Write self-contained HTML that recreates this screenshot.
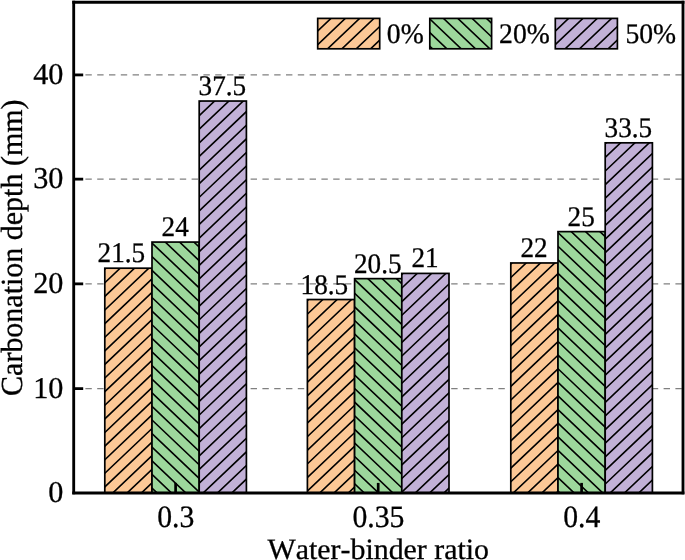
<!DOCTYPE html>
<html><head><meta charset="utf-8"><title>Carbonation depth</title>
<style>html,body{margin:0;padding:0;background:#fff}body{width:685px;height:560px;overflow:hidden}</style>
</head><body>
<svg width="685" height="560" viewBox="0 0 685 560" style="display:block;font-family:'Liberation Serif', serif" stroke-linecap="butt"><style>text{stroke:#000;stroke-width:0.3px;fill:#000;text-rendering:geometricPrecision}</style>
<rect width="685" height="560" fill="#fff"/>
<line x1="73.6" x2="682.6"  y1="388.63" y2="388.63" stroke="#808080" stroke-width="1.4" stroke-dasharray="6.4 5.4"/>
<line x1="73.6" x2="682.6"  y1="283.86" y2="283.86" stroke="#808080" stroke-width="1.4" stroke-dasharray="6.4 5.4"/>
<line x1="73.6" x2="682.6"  y1="179.14" y2="179.14" stroke="#808080" stroke-width="1.4" stroke-dasharray="6.4 5.4"/>
<line x1="73.6" x2="682.6"  y1="74.92" y2="74.92" stroke="#808080" stroke-width="1.4" stroke-dasharray="6.4 5.4"/>
<defs><clipPath id="c1"><rect x="104.80" y="268.19" width="47.20" height="224.61"/></clipPath><clipPath id="c2"><rect x="152.00" y="242.07" width="47.20" height="250.73"/></clipPath><clipPath id="c3"><rect x="199.20" y="101.04" width="47.20" height="391.76"/></clipPath><clipPath id="c4"><rect x="307.40" y="299.53" width="47.20" height="193.27"/></clipPath><clipPath id="c5"><rect x="354.60" y="278.64" width="47.20" height="214.16"/></clipPath><clipPath id="c6"><rect x="401.80" y="273.41" width="47.20" height="219.39"/></clipPath><clipPath id="c7"><rect x="510.80" y="262.97" width="47.20" height="229.83"/></clipPath><clipPath id="c8"><rect x="558.00" y="231.63" width="47.20" height="261.17"/></clipPath><clipPath id="c9"><rect x="605.20" y="142.83" width="47.20" height="349.97"/></clipPath><clipPath id="c10"><rect x="317.70" y="18.40" width="62.00" height="30.40"/></clipPath><clipPath id="c11"><rect x="429.80" y="18.40" width="61.80" height="30.40"/></clipPath><clipPath id="c12"><rect x="555.30" y="18.40" width="62.10" height="30.40"/></clipPath></defs>
<rect x="104.80" y="268.19" width="47.20" height="224.61" fill="#FCC896"/>
<path clip-path="url(#c1)" d="M103.80 270.14L153.00 223.40M103.80 283.75L153.00 237.01M103.80 297.36L153.00 250.62M103.80 310.97L153.00 264.23M103.80 324.58L153.00 277.84M103.80 338.19L153.00 291.45M103.80 351.80L153.00 305.06M103.80 365.41L153.00 318.67M103.80 379.02L153.00 332.28M103.80 392.63L153.00 345.89M103.80 406.24L153.00 359.50M103.80 419.85L153.00 373.11M103.80 433.46L153.00 386.72M103.80 447.07L153.00 400.33M103.80 460.68L153.00 413.94M103.80 474.29L153.00 427.55M103.80 487.90L153.00 441.16M103.80 501.51L153.00 454.77M103.80 515.12L153.00 468.38M103.80 528.73L153.00 481.99M103.80 542.34L153.00 495.60M103.80 555.95L153.00 509.21" stroke="#000" stroke-width="1.6" fill="none"/>
<rect x="104.80" y="268.19" width="47.20" height="224.61" fill="none" stroke="#000" stroke-width="1.7"/>
<rect x="152.00" y="242.07" width="47.20" height="250.73" fill="#9DD79C"/>
<path clip-path="url(#c2)" d="M151.00 187.68L200.20 234.42M151.00 201.29L200.20 248.03M151.00 214.90L200.20 261.64M151.00 228.51L200.20 275.25M151.00 242.12L200.20 288.86M151.00 255.73L200.20 302.47M151.00 269.34L200.20 316.08M151.00 282.95L200.20 329.69M151.00 296.56L200.20 343.30M151.00 310.17L200.20 356.91M151.00 323.78L200.20 370.52M151.00 337.39L200.20 384.13M151.00 351.00L200.20 397.74M151.00 364.61L200.20 411.35M151.00 378.22L200.20 424.96M151.00 391.83L200.20 438.57M151.00 405.44L200.20 452.18M151.00 419.05L200.20 465.79M151.00 432.66L200.20 479.40M151.00 446.27L200.20 493.01M151.00 459.88L200.20 506.62M151.00 473.49L200.20 520.23M151.00 487.10L200.20 533.84M151.00 500.71L200.20 547.45" stroke="#000" stroke-width="1.6" fill="none"/>
<rect x="152.00" y="242.07" width="47.20" height="250.73" fill="none" stroke="#000" stroke-width="1.7"/>
<rect x="199.20" y="101.04" width="47.20" height="391.76" fill="#C2B1D7"/>
<path clip-path="url(#c3)" d="M198.20 102.99L247.40 56.25M198.20 116.60L247.40 69.86M198.20 130.21L247.40 83.47M198.20 143.82L247.40 97.08M198.20 157.43L247.40 110.69M198.20 171.04L247.40 124.30M198.20 184.65L247.40 137.91M198.20 198.26L247.40 151.52M198.20 211.87L247.40 165.13M198.20 225.48L247.40 178.74M198.20 239.09L247.40 192.35M198.20 252.70L247.40 205.96M198.20 266.31L247.40 219.57M198.20 279.92L247.40 233.18M198.20 293.53L247.40 246.79M198.20 307.14L247.40 260.40M198.20 320.75L247.40 274.01M198.20 334.36L247.40 287.62M198.20 347.97L247.40 301.23M198.20 361.58L247.40 314.84M198.20 375.19L247.40 328.45M198.20 388.80L247.40 342.06M198.20 402.41L247.40 355.67M198.20 416.02L247.40 369.28M198.20 429.63L247.40 382.89M198.20 443.24L247.40 396.50M198.20 456.85L247.40 410.11M198.20 470.46L247.40 423.72M198.20 484.07L247.40 437.33M198.20 497.68L247.40 450.94M198.20 511.29L247.40 464.55M198.20 524.90L247.40 478.16M198.20 538.51L247.40 491.77M198.20 552.12L247.40 505.38M198.20 565.73L247.40 518.99" stroke="#000" stroke-width="1.6" fill="none"/>
<rect x="199.20" y="101.04" width="47.20" height="391.76" fill="none" stroke="#000" stroke-width="1.7"/>
<rect x="307.40" y="299.53" width="47.20" height="193.27" fill="#FCC896"/>
<path clip-path="url(#c4)" d="M306.40 301.48L355.60 254.74M306.40 315.09L355.60 268.35M306.40 328.70L355.60 281.96M306.40 342.31L355.60 295.57M306.40 355.92L355.60 309.18M306.40 369.53L355.60 322.79M306.40 383.14L355.60 336.40M306.40 396.75L355.60 350.01M306.40 410.36L355.60 363.62M306.40 423.97L355.60 377.23M306.40 437.58L355.60 390.84M306.40 451.19L355.60 404.45M306.40 464.80L355.60 418.06M306.40 478.41L355.60 431.67M306.40 492.02L355.60 445.28M306.40 505.63L355.60 458.89M306.40 519.24L355.60 472.50M306.40 532.85L355.60 486.11M306.40 546.46L355.60 499.72M306.40 560.07L355.60 513.33" stroke="#000" stroke-width="1.6" fill="none"/>
<rect x="307.40" y="299.53" width="47.20" height="193.27" fill="none" stroke="#000" stroke-width="1.7"/>
<rect x="354.60" y="278.64" width="47.20" height="214.16" fill="#9DD79C"/>
<path clip-path="url(#c5)" d="M353.60 224.25L402.80 270.99M353.60 237.86L402.80 284.60M353.60 251.47L402.80 298.21M353.60 265.08L402.80 311.82M353.60 278.69L402.80 325.43M353.60 292.30L402.80 339.04M353.60 305.91L402.80 352.65M353.60 319.52L402.80 366.26M353.60 333.13L402.80 379.87M353.60 346.74L402.80 393.48M353.60 360.35L402.80 407.09M353.60 373.96L402.80 420.70M353.60 387.57L402.80 434.31M353.60 401.18L402.80 447.92M353.60 414.79L402.80 461.53M353.60 428.40L402.80 475.14M353.60 442.01L402.80 488.75M353.60 455.62L402.80 502.36M353.60 469.23L402.80 515.97M353.60 482.84L402.80 529.58M353.60 496.45L402.80 543.19M353.60 510.06L402.80 556.80" stroke="#000" stroke-width="1.6" fill="none"/>
<rect x="354.60" y="278.64" width="47.20" height="214.16" fill="none" stroke="#000" stroke-width="1.7"/>
<rect x="401.80" y="273.41" width="47.20" height="219.39" fill="#C2B1D7"/>
<path clip-path="url(#c6)" d="M400.80 275.36L450.00 228.62M400.80 288.97L450.00 242.23M400.80 302.58L450.00 255.84M400.80 316.19L450.00 269.45M400.80 329.80L450.00 283.06M400.80 343.41L450.00 296.67M400.80 357.02L450.00 310.28M400.80 370.63L450.00 323.89M400.80 384.24L450.00 337.50M400.80 397.85L450.00 351.11M400.80 411.46L450.00 364.72M400.80 425.07L450.00 378.33M400.80 438.68L450.00 391.94M400.80 452.29L450.00 405.55M400.80 465.90L450.00 419.16M400.80 479.51L450.00 432.77M400.80 493.12L450.00 446.38M400.80 506.73L450.00 459.99M400.80 520.34L450.00 473.60M400.80 533.95L450.00 487.21M400.80 547.56L450.00 500.82M400.80 561.17L450.00 514.43" stroke="#000" stroke-width="1.6" fill="none"/>
<rect x="401.80" y="273.41" width="47.20" height="219.39" fill="none" stroke="#000" stroke-width="1.7"/>
<rect x="510.80" y="262.97" width="47.20" height="229.83" fill="#FCC896"/>
<path clip-path="url(#c7)" d="M509.80 264.92L559.00 218.18M509.80 278.53L559.00 231.79M509.80 292.14L559.00 245.40M509.80 305.75L559.00 259.01M509.80 319.36L559.00 272.62M509.80 332.97L559.00 286.23M509.80 346.58L559.00 299.84M509.80 360.19L559.00 313.45M509.80 373.80L559.00 327.06M509.80 387.41L559.00 340.67M509.80 401.02L559.00 354.28M509.80 414.63L559.00 367.89M509.80 428.24L559.00 381.50M509.80 441.85L559.00 395.11M509.80 455.46L559.00 408.72M509.80 469.07L559.00 422.33M509.80 482.68L559.00 435.94M509.80 496.29L559.00 449.55M509.80 509.90L559.00 463.16M509.80 523.51L559.00 476.77M509.80 537.12L559.00 490.38M509.80 550.73L559.00 503.99M509.80 564.34L559.00 517.60" stroke="#000" stroke-width="1.6" fill="none"/>
<rect x="510.80" y="262.97" width="47.20" height="229.83" fill="none" stroke="#000" stroke-width="1.7"/>
<rect x="558.00" y="231.63" width="47.20" height="261.17" fill="#9DD79C"/>
<path clip-path="url(#c8)" d="M557.00 177.24L606.20 223.98M557.00 190.85L606.20 237.59M557.00 204.46L606.20 251.20M557.00 218.07L606.20 264.81M557.00 231.68L606.20 278.42M557.00 245.29L606.20 292.03M557.00 258.90L606.20 305.64M557.00 272.51L606.20 319.25M557.00 286.12L606.20 332.86M557.00 299.73L606.20 346.47M557.00 313.34L606.20 360.07M557.00 326.95L606.20 373.69M557.00 340.56L606.20 387.30M557.00 354.17L606.20 400.91M557.00 367.78L606.20 414.52M557.00 381.39L606.20 428.13M557.00 395.00L606.20 441.74M557.00 408.61L606.20 455.35M557.00 422.22L606.20 468.95M557.00 435.83L606.20 482.56M557.00 449.44L606.20 496.18M557.00 463.05L606.20 509.79M557.00 476.66L606.20 523.40M557.00 490.26L606.20 537.00M557.00 503.88L606.20 550.62" stroke="#000" stroke-width="1.6" fill="none"/>
<rect x="558.00" y="231.63" width="47.20" height="261.17" fill="none" stroke="#000" stroke-width="1.7"/>
<rect x="605.20" y="142.83" width="47.20" height="349.97" fill="#C2B1D7"/>
<path clip-path="url(#c9)" d="M604.20 144.78L653.40 98.04M604.20 158.39L653.40 111.65M604.20 172.00L653.40 125.26M604.20 185.61L653.40 138.87M604.20 199.22L653.40 152.48M604.20 212.83L653.40 166.09M604.20 226.44L653.40 179.70M604.20 240.05L653.40 193.31M604.20 253.66L653.40 206.92M604.20 267.27L653.40 220.53M604.20 280.88L653.40 234.14M604.20 294.49L653.40 247.75M604.20 308.10L653.40 261.36M604.20 321.71L653.40 274.97M604.20 335.32L653.40 288.58M604.20 348.93L653.40 302.19M604.20 362.54L653.40 315.80M604.20 376.15L653.40 329.41M604.20 389.76L653.40 343.02M604.20 403.37L653.40 356.63M604.20 416.98L653.40 370.24M604.20 430.59L653.40 383.85M604.20 444.20L653.40 397.46M604.20 457.81L653.40 411.07M604.20 471.42L653.40 424.68M604.20 485.03L653.40 438.29M604.20 498.64L653.40 451.90M604.20 512.25L653.40 465.51M604.20 525.86L653.40 479.12M604.20 539.47L653.40 492.73M604.20 553.08L653.40 506.34M604.20 566.69L653.40 519.95" stroke="#000" stroke-width="1.6" fill="none"/>
<rect x="605.20" y="142.83" width="47.20" height="349.97" fill="none" stroke="#000" stroke-width="1.7"/>
<rect x="317.70" y="18.40" width="62.00" height="30.40" fill="#FCC896"/>
<path clip-path="url(#c10)" d="M316.70 18.35L380.70 -42.45M316.70 31.96L380.70 -28.84M316.70 45.57L380.70 -15.23M316.70 59.18L380.70 -1.62M316.70 72.79L380.70 11.99M316.70 86.40L380.70 25.60M316.70 100.01L380.70 39.21M316.70 113.62L380.70 52.82M316.70 127.23L380.70 66.43" stroke="#000" stroke-width="1.6" fill="none"/>
<rect x="317.70" y="18.40" width="62.00" height="30.40" fill="none" stroke="#000" stroke-width="1.7"/>
<rect x="429.80" y="18.40" width="61.80" height="30.40" fill="#9DD79C"/>
<path clip-path="url(#c11)" d="M428.80 -50.00L492.60 10.61M428.80 -36.39L492.60 24.22M428.80 -22.78L492.60 37.83M428.80 -9.17L492.60 51.44M428.80 4.44L492.60 65.05M428.80 18.05L492.60 78.66M428.80 31.66L492.60 92.27M428.80 45.27L492.60 105.88M428.80 58.88L492.60 119.49" stroke="#000" stroke-width="1.6" fill="none"/>
<rect x="429.80" y="18.40" width="61.80" height="30.40" fill="none" stroke="#000" stroke-width="1.7"/>
<rect x="555.30" y="18.40" width="62.10" height="30.40" fill="#C2B1D7"/>
<path clip-path="url(#c12)" d="M554.30 18.35L618.40 -42.55M554.30 31.96L618.40 -28.93M554.30 45.57L618.40 -15.32M554.30 59.18L618.40 -1.72M554.30 72.79L618.40 11.90M554.30 86.40L618.40 25.50M554.30 100.01L618.40 39.12M554.30 113.62L618.40 52.72M554.30 127.23L618.40 66.33" stroke="#000" stroke-width="1.6" fill="none"/>
<rect x="555.30" y="18.40" width="62.10" height="30.40" fill="none" stroke="#000" stroke-width="1.7"/>
<line x1="175.6" x2="175.6" y1="492.8" y2="482.90" stroke="#000" stroke-width="2.7"/>
<line x1="378.2" x2="378.2" y1="492.8" y2="482.90" stroke="#000" stroke-width="2.7"/>
<line x1="581.6" x2="581.6" y1="492.8" y2="482.90" stroke="#000" stroke-width="2.7"/>
<line x1="73.6" x2="83.20" y1="388.63" y2="388.63" stroke="#000" stroke-width="2.8"/>
<line x1="73.6" x2="83.20" y1="283.86" y2="283.86" stroke="#000" stroke-width="2.8"/>
<line x1="73.6" x2="83.20" y1="179.14" y2="179.14" stroke="#000" stroke-width="2.8"/>
<line x1="73.6" x2="83.20" y1="74.92" y2="74.92" stroke="#000" stroke-width="2.8"/>
<path d="M73.7 0.78V494.37" stroke="#000" stroke-width="2.85" fill="none"/>
<path d="M683.0 0.78V494.37" stroke="#000" stroke-width="2.85" fill="none"/>
<path d="M72.28 2.2H684.42" stroke="#000" stroke-width="2.85" fill="none"/>
<path d="M72.28 492.95H684.42" stroke="#000" stroke-width="2.85" fill="none"/>
<text x="63.4" y="502.00" font-size="30.2" text-anchor="end">0</text>
<text x="63.4" y="397.83" font-size="30.2" text-anchor="end">10</text>
<text x="63.4" y="293.06" font-size="30.2" text-anchor="end">20</text>
<text x="63.4" y="188.34" font-size="30.2" text-anchor="end">30</text>
<text x="63.4" y="84.12" font-size="30.2" text-anchor="end">40</text>
<text transform="translate(175.80 527.0) scale(0.955 1)" font-size="31.1" text-anchor="middle">0.3</text>
<text transform="translate(378.40 527.0) scale(0.955 1)" font-size="31.1" text-anchor="middle">0.35</text>
<text transform="translate(581.80 527.0) scale(0.955 1)" font-size="31.1" text-anchor="middle">0.4</text>
<text transform="translate(378.3 558.5) scale(1.015 1)" font-size="29.45" text-anchor="middle" style="font-kerning:none">Water-binder ratio</text>
<text transform="translate(22.3 247.7) rotate(-90) scale(0.98 1)" font-size="30.6" text-anchor="middle" style="font-kerning:none">Carbonation depth (mm)</text>
<text transform="translate(121.40 262.19) scale(0.957 1)" font-size="28.4" text-anchor="middle">21.5</text>
<text transform="translate(175.20 236.07) scale(0.957 1)" font-size="28.4" text-anchor="middle">24</text>
<text transform="translate(222.40 95.04) scale(0.957 1)" font-size="28.4" text-anchor="middle">37.5</text>
<text transform="translate(324.40 293.53) scale(0.957 1)" font-size="28.4" text-anchor="middle">18.5</text>
<text transform="translate(377.80 272.64) scale(0.957 1)" font-size="28.4" text-anchor="middle">20.5</text>
<text transform="translate(425.00 267.41) scale(0.957 1)" font-size="28.4" text-anchor="middle">21</text>
<text transform="translate(534.00 256.97) scale(0.957 1)" font-size="28.4" text-anchor="middle">22</text>
<text transform="translate(581.20 225.63) scale(0.957 1)" font-size="28.4" text-anchor="middle">25</text>
<text transform="translate(628.40 136.83) scale(0.957 1)" font-size="28.4" text-anchor="middle">33.5</text>
<text transform="translate(386.80 43.0) scale(0.975 1)" font-size="28.4">0%</text>
<text transform="translate(499.10 43.0) scale(0.975 1)" font-size="28.4">20%</text>
<text transform="translate(625.40 43.0) scale(0.975 1)" font-size="28.4">50%</text>
</svg>
</body></html>
